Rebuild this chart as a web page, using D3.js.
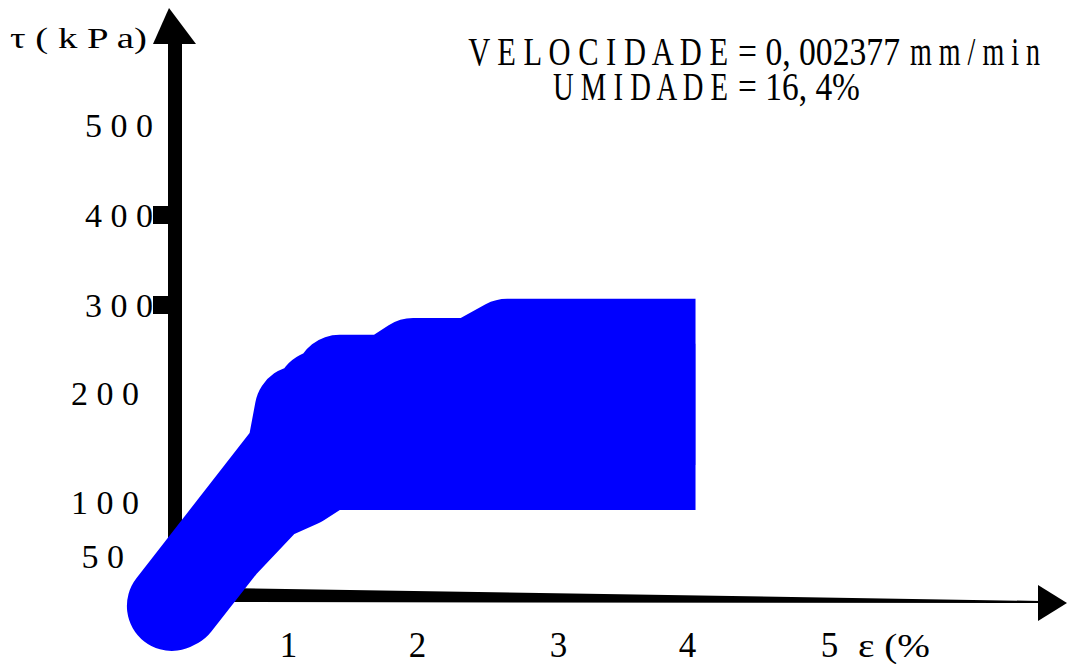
<!DOCTYPE html>
<html>
<head>
<meta charset="utf-8">
<script src="https://cdn.jsdelivr.net/npm/d3@7"></script>
<style>
  html, body { margin: 0; padding: 0; background: #fff; }
  svg { display: block; }
  text { font-family: "Liberation Serif", "Times New Roman", serif; fill: #000; }
</style>
</head>
<body>
<svg id="chart" width="1067" height="664"></svg>
<script>
// Shear test record: strain ε (%) against shear stress τ (kPa), loading then unloading
const strain = [0.14, 1.03, 1.09, 1.14, 1.25, 1.31, 1.40, 1.77, 1.97, 2.39, 2.64, 4.06, 4.06, 1.30, 1.09, 0.85, 0.51, 0.17];
const stress = [2, 146, 184, 157, 198, 171, 215, 215, 234, 234, 256, 256, 134, 134, 118, 105, 60, 4];

// Axis tick values
const strainTicks = [1, 2, 3, 4, 5];
const stressTicks = [500, 400, 300, 200, 100, 50];
const markedStressTicks = [400, 300];

// Text
const yTitle = "τ ( k P a)";
const xTitle = "ε (%";
const velocityLabel = "V E L O C I D A D E";
const velocityValue = "= 0, 002377";
const velocityUnit = "m m / m i n";
const moistureLabel = "U M I D A D E";
const moistureValue = "= 16, 4%";

const svg = d3.select("#chart");

const x = d3.scaleLinear().domain([0, 1, 2, 3, 4, 5]).range([153, 288, 417, 558, 687, 829]);
const y = d3.scaleLinear().domain([0, 50, 100, 200, 300, 400, 500]).range([608, 556, 502, 393, 305, 215, 125]);

const spaced = d => String(d).split("").join(" ");

// Places a text and squeezes it horizontally to a given width
function fitText(txt, x0, base, size, width, anchor) {
  const g = svg.append("g").attr("transform", `translate(${x0},${base})`);
  const t = g.append("text")
    .attr("x", 0).attr("y", 0)
    .attr("font-size", size)
    .attr("text-anchor", anchor || "start")
    .text(txt);
  const natural = t.node().getComputedTextLength();
  g.attr("transform", `translate(${x0},${base}) scale(${width / natural},1)`);
  return t;
}

// ---- axes (drawn first; the curve sits over them) ----
// vertical τ axis with arrow
svg.append("rect").attr("x", 168).attr("y", 40).attr("width", 14).attr("height", 560).attr("fill", "#000");
svg.append("path").attr("d", "M153,44 L169,8 L196,44 Z").attr("fill", "#000");

// horizontal ε axis: tapered bar with arrow
svg.append("path").attr("d", "M168,587 L1040,601 L1040,603 L168,602 Z").attr("fill", "#000");
svg.append("path").attr("d", "M1038,585 L1067,603 L1038,621 Z").attr("fill", "#000");

// tick marks on the τ axis
svg.selectAll("rect.tick-mark")
  .data(markedStressTicks)
  .join("rect")
  .attr("class", "tick-mark")
  .attr("x", 153).attr("width", 16)
  .attr("y", d => y(d) - 9).attr("height", 18)
  .attr("fill", "#000");

// τ tick labels
const labelRight = {500: 153, 400: 153, 300: 153, 200: 139, 100: 139, 50: 124};
const yAxis = svg.append("g")
  .call(d3.axisLeft(y).tickValues(stressTicks).tickFormat(spaced).tickSize(0));
yAxis.select(".domain").remove();
yAxis.selectAll(".tick text")
  .attr("x", d => labelRight[d])
  .attr("dy", "0.35em")
  .attr("text-anchor", "end")
  .attr("font-size", 34)
  .attr("font-family", "Liberation Serif")
  .attr("fill", "#000");

// ε tick labels
const xAxis = svg.append("g")
  .call(d3.axisBottom(x).tickValues(strainTicks).tickFormat(d3.format("d")).tickSize(0));
xAxis.select(".domain").remove();
xAxis.selectAll(".tick text")
  .attr("y", 657)
  .attr("dy", 0)
  .attr("font-size", 35)
  .attr("font-family", "Liberation Serif")
  .attr("fill", "#000");

// axis titles
fitText(yTitle, 10, 48, 29, 137);
fitText(xTitle, 858, 657, 34, 72);

// ---- test conditions ----
fitText(velocityLabel, 728, 65, 41, 260, "end");
fitText(velocityValue, 738, 65, 41, 162);
fitText(velocityUnit, 910, 65, 41, 130);
fitText(moistureLabel, 728, 100, 41, 175, "end");
fitText(moistureValue, 738, 100, 41, 122);

// ---- stress–strain loop ----
const pts = strain.map((e, i) => [e, stress[i]]);
svg.append("clipPath").attr("id", "record-clip")
  .append("rect").attr("x", 0).attr("y", 0)
  .attr("width", x(d3.max(strain))).attr("height", 664);

svg.append("path")
  .datum(pts)
  .attr("clip-path", "url(#record-clip)")
  .attr("d", d3.line().x(d => x(d[0])).y(d => y(d[1])))
  .attr("fill", "#0000ff")
  .attr("stroke", "#0000ff")
  .attr("stroke-width", 90)
  .attr("stroke-linejoin", "round")
  .attr("stroke-linecap", "round");
</script>
</body>
</html>
